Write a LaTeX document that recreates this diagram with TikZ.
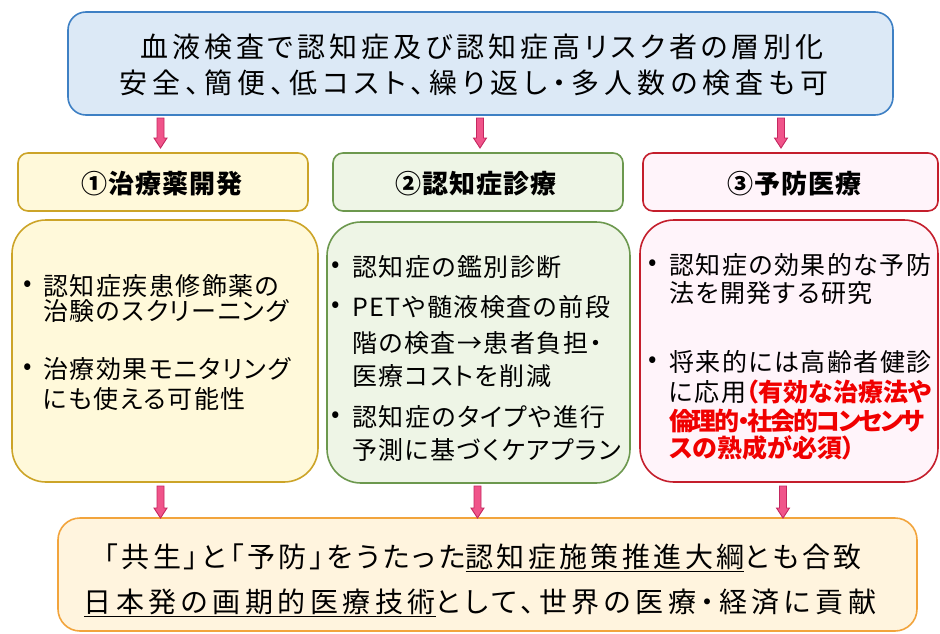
\documentclass[tikz,border=0pt]{standalone}
\usepackage{fontspec}
\setmainfont{Noto Sans CJK JP}
\newfontfamily\jpfont[RawFeature=+palt]{Noto Sans CJK JP}
\usetikzlibrary{calc}
\definecolor{topfill}{RGB}{220,233,246}
\definecolor{topdraw}{RGB}{62,128,196}
\definecolor{yfill}{RGB}{255,249,218}
\definecolor{ydraw}{RGB}{204,164,40}
\definecolor{gfill}{RGB}{238,245,230}
\definecolor{gdraw}{RGB}{108,152,78}
\definecolor{pfill}{RGB}{255,244,250}
\definecolor{pdraw}{RGB}{196,30,44}
\definecolor{bfill}{RGB}{255,244,222}
\definecolor{bdraw}{RGB}{242,164,60}
\definecolor{afill}{RGB}{240,84,138}
\definecolor{adraw}{RGB}{196,40,96}
\definecolor{redtxt}{RGB}{240,0,0}
\newcommand{\blockarr}[2]{%
  \draw[barrow] ($(#1)+(-3.5,0)$) -- ($(#2)+(-3.5,-10)$) -- ($(#2)+(-6.5,-10)$) -- (#2)
    -- ($(#2)+(6.5,-10)$) -- ($(#2)+(3.5,-10)$) -- ($(#1)+(3.5,0)$) -- cycle;}
\newcommand{\bigfont}[1]{\jpfont\fontsize{28}{32}\selectfont\addfontfeature{LetterSpace=#1}}
\newcommand{\headfont}{\jpfont\bfseries\fontsize{26}{30}\selectfont\addfontfeature{LetterSpace=4}}
\newcommand{\bodyfont}{\jpfont\fontsize{25}{30}\selectfont\addfontfeature{LetterSpace=6}}
\newcommand{\redfont}[1]{\jpfont\bfseries\fontsize{25}{30}\selectfont\addfontfeature{LetterSpace=#1}}
\begin{document}
\begin{tikzpicture}[x=1pt,y=-1pt,
  box/.style={draw, line width=1.6pt, inner sep=0pt},
  barrow/.style={fill=afill, draw=adraw, line width=0.9pt, line join=miter},
  txt/.style={inner sep=0pt, text=black},
  bl/.style={txt, anchor=west, font=\bodyfont},
  rl/.style={txt, anchor=west, text=redtxt},
  dot/.style={txt, anchor=center, font=\bodyfont}]
\useasboundingbox (0,0) rectangle (940,634);
% boxes
\node[box, draw=topdraw, fill=topfill, rounded corners=18pt, minimum width=825pt, minimum height=103pt] (top) at (480.5,63.5) {};
\node[box, draw=ydraw, fill=yfill, rounded corners=10pt, minimum width=290pt, minimum height=58pt] (h1) at (163,182) {};
\node[box, draw=gdraw, fill=gfill, rounded corners=10pt, minimum width=290pt, minimum height=58pt] (h2) at (478,182) {};
\node[box, draw=pdraw, fill=pfill, rounded corners=10pt, minimum width=295pt, minimum height=58pt] (h3) at (790.5,182) {};
\node[box, draw=ydraw, fill=yfill, rounded corners=34pt, minimum width=306pt, minimum height=262pt] (c1) at (165,351) {};
\node[box, draw=gdraw, fill=gfill, rounded corners=34pt, minimum width=303pt, minimum height=261pt] (c2) at (478.5,352.5) {};
\node[box, draw=pdraw, fill=pfill, rounded corners=34pt, minimum width=298pt, minimum height=262pt] (c3) at (789,351) {};
\node[box, draw=bdraw, fill=bfill, rounded corners=22pt, minimum width=859pt, minimum height=113pt] (bot) at (487.5,574.5) {};
% arrows
\coordinate (a1s) at (160.5,118); \coordinate (a1e) at (160.5,148);
\coordinate (a2s) at (480,118);   \coordinate (a2e) at (480,148);
\coordinate (a3s) at (781,118);   \coordinate (a3e) at (781,148);
\coordinate (b1s) at (160.5,486); \coordinate (b1e) at (160.5,518);
\coordinate (b2s) at (477.5,486); \coordinate (b2e) at (477.5,518);
\coordinate (b3s) at (783,486);   \coordinate (b3e) at (783,518);
\blockarr{a1s}{a1e}\blockarr{a2s}{a2e}\blockarr{a3s}{a3e}
\blockarr{b1s}{b1e}\blockarr{b2s}{b2e}\blockarr{b3s}{b3e}
% top text
\node[txt, font=\bigfont{14}] (t1) at (482,46.5) {血液検査で認知症及び認知症高リスク者の層別化};
\node[txt, font=\bigfont{18}] (t2) at (474,82.5) {安全、簡便、低コスト、繰り返し・多人数の検査も可};
% headers
\node[txt, font=\headfont] (ht1) at (162,184) {①治療薬開発};
\node[txt, font=\headfont] (ht2) at (476,184) {②認知症診療};
\node[txt, font=\headfont] (ht3) at (794.5,184) {③予防医療};
% box 1
\node[dot] (d11) at (27.5,286) {•};
\node[bl] (l11) at (43,286) {認知症疾患修飾薬の};
\node[bl] (l12) at (43,311) {治験のスクリーニング};
\node[dot] (d12) at (27.5,369) {•};
\node[bl] (l13) at (43,369) {治療効果モニタリング};
\node[bl] (l14) at (43,399) {にも使える可能性};
% box 2
\node[dot] (d21) at (336,267.5) {•};
\node[bl] (l21) at (352,267.5) {認知症の鑑別診断};
\node[dot] (d22) at (336,307) {•};
\node[bl] (l22) at (352,307) {PETや髄液検査の前段};
\node[bl] (l23) at (352,343) {階の検査→患者負担・};
\node[bl] (l24) at (352,376) {医療コストを削減};
\node[dot] (d23) at (336,417.5) {•};
\node[bl] (l25) at (352,417.5) {認知症のタイプや進行};
\node[bl] (l26) at (352,450) {予測に基づくケアプラン};
% box 3
\node[dot] (d31) at (653,265) {•};
\node[bl] (l31) at (669,265) {認知症の効果的な予防};
\node[bl] (l32) at (669,293) {法を開発する研究};
\node[dot] (d32) at (653,362) {•};
\node[bl] (l33) at (669,362) {将来的には高齢者健診};
\node[bl] (l34) at (669,392) {に応用{\redfont{0}\color{redtxt}（有効な治療法や}};
\node[rl, font=\redfont{-9}] (l35) at (669,421) {倫理的・社会的コンセンサ};
\node[rl, font=\redfont{0}] (l36) at (669,447.5) {スの熟成が必須）};
% bottom text
\node[txt, font=\bigfont{12}] (u1) at (483,558) {「共生」と「予防」をうたった\underline{認知症施策推進大綱}とも合致};
\node[txt, font=\bigfont{16}] (u2) at (480,603) {\underline{日本発の画期的医療技術}として、世界の医療・経済に貢献};
\end{tikzpicture}
\end{document}
